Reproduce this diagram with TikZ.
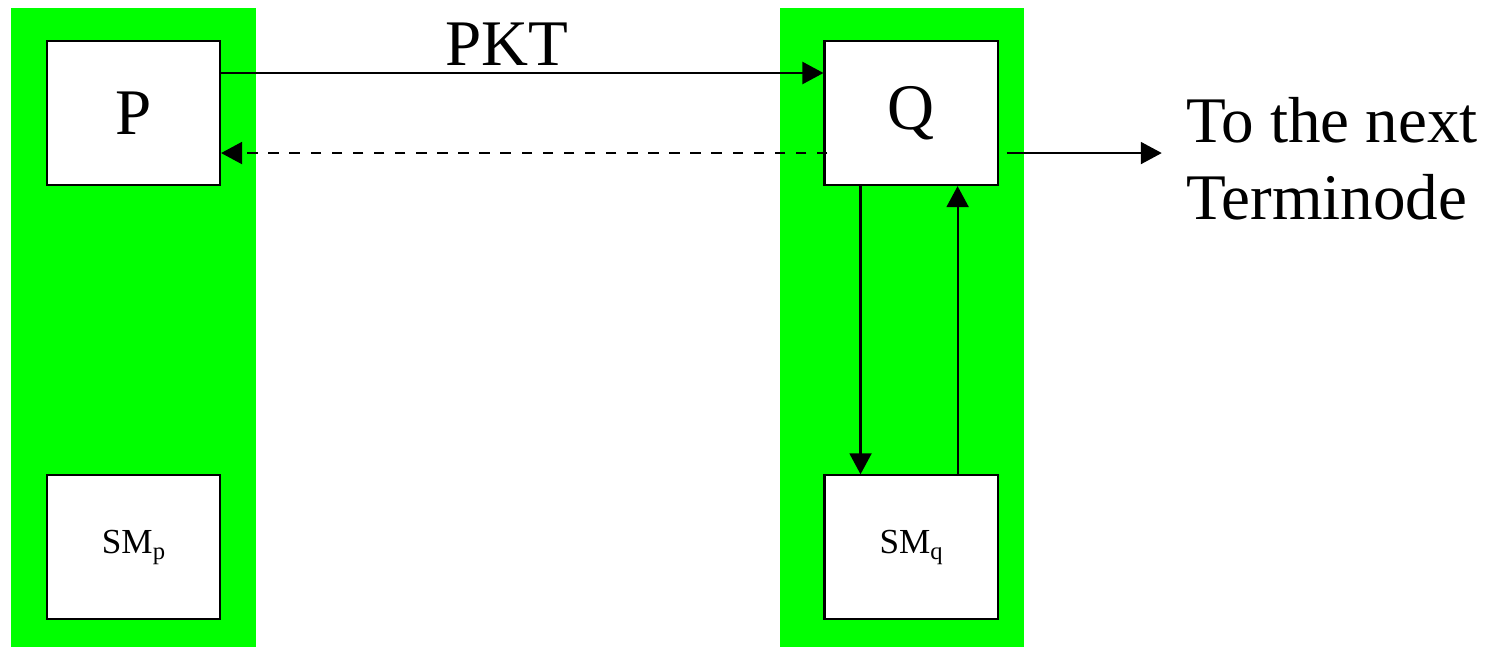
\documentclass[tikz,border=0pt]{standalone}
\usepackage{fontspec}
\setmainfont{Liberation Serif}
\usetikzlibrary{arrows.meta,positioning}
\definecolor{green}{RGB}{0,255,0}
\newcommand{\smsub}[1]{\raisebox{-0.35ex}{\fontsize{7}{8}\selectfont #1}}

\begin{document}
\begin{tikzpicture}[x=0.01cm,y=-0.01cm]

		\tikzset{line/.style={draw,line width=0.6pt}}
		\tikzset{arrow/.style={line,-{Triangle[length=0.21cm,width=0.22cm]}}}
		\tikzset{box/.style={line,fill=white,minimum width=1.73cm,minimum height=1.44cm,inner sep=0pt}}
		\tikzset{big/.style={font=\fontsize{18.5}{22}\selectfont}}
		\tikzset{small/.style={font=\fontsize{10}{12}\selectfont}}

		\useasboundingbox (0,0) rectangle (1497,647);

		% green columns
		\fill[green] (11,8) rectangle (256,647);
		\fill[green] (780,8) rectangle (1024,647);

		\node[box,big] (P) at (133.5,113) {P};
		\node[box,small,below=2.88cm of P] (SMp) {SM\smsub{p}};
		\node[box,big,right=6.02cm of P] (Q) {Q};
		\node[box,small,below=2.88cm of Q] (SMq) {SM\smsub{q}};

		\coordinate[right=1.63cm of Q.east, yshift=-0.4cm] (next);
		\node[big,align=left,right=0.12cm of next,yshift=-0.055cm] (lbl) {To the next\\Terminode};

		\path[arrow] ([yshift=0.4cm]P.east) to node[midway,above=-0.05cm,xshift=-0.15cm,big] (pkt) {PKT} ([yshift=0.4cm]Q.west);
		\path[arrow, dashed] ([xshift=0.04cm,yshift=-0.4cm]Q.west) to ([yshift=-0.4cm]P.east);
		\path[arrow] ([xshift=-0.505cm]Q.south) to ([xshift=-0.505cm]SMq.north);
		\path[arrow] ([xshift=0.465cm]SMq.north) to ([xshift=0.465cm]Q.south);
		\path[arrow] ([xshift=0.08cm,yshift=-0.4cm]Q.east) to (next);

	\end{tikzpicture}
\end{document}
